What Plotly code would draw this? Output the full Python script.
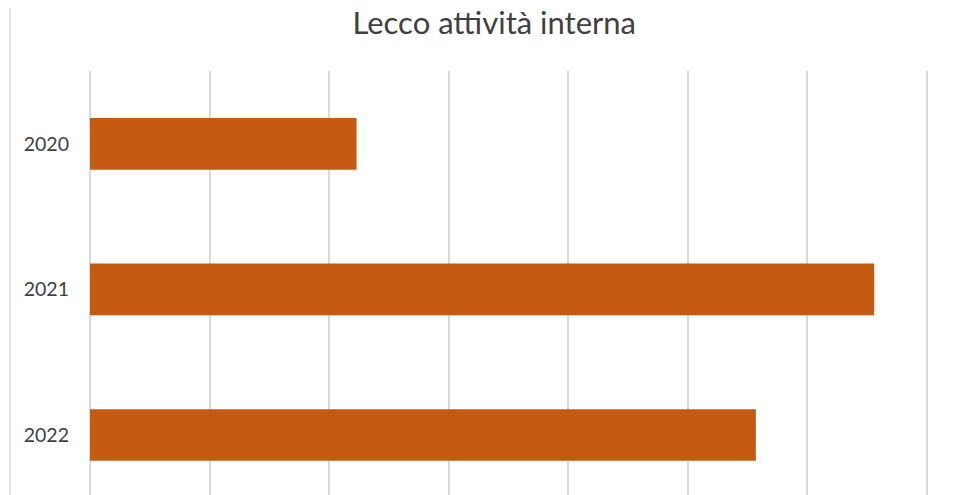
import plotly.graph_objects as go

categories = ["2020", "2021", "2022"]
values = [2.23, 6.56, 5.57]
title_text = "Lecco attività interna"

fig = go.Figure(go.Bar(
    x=values, y=categories, orientation="h",
    marker=dict(color="#C55A11", line=dict(width=0)),
    width=0.355,
))

W, H = 971, 495
ml, mr, mt, mb = 90, 43, 71, 0
pw = W - ml - mr
ph = H - mt - mb

fig.update_layout(
    width=W, height=H,
    margin=dict(l=ml, r=mr, t=mt, b=mb),
    paper_bgcolor="white", plot_bgcolor="white",
    font=dict(family="Lato, Carlito, sans-serif", color="#404040"),
    title=dict(text=title_text, x=0.509, xanchor="center", y=1 - 23 / H, yanchor="middle",
               font=dict(size=31, color="#404040")),
    showlegend=False,
    xaxis=dict(range=[0, 7.01], dtick=1, showgrid=True, gridcolor="#d9d9d9", gridwidth=1.5,
               showticklabels=False, zeroline=True, zerolinecolor="#d9d9d9", zerolinewidth=1.5,
               showline=False, fixedrange=True),
    yaxis=dict(range=[2.412, -0.5], showgrid=False, ticks="", showline=False,
               tickfont=dict(size=19.5, color="#404040"), ticklabelstandoff=20, fixedrange=True),
    shapes=[dict(type="line", xref="paper", yref="paper",
                 x0=(10 - ml) / pw, x1=(10 - ml) / pw,
                 y0=(H - 8 - mb) / ph, y1=-0.01,
                 line=dict(color="#d9d9d9", width=1.5))],
)

fig.write_html("out.html", config={"displayModeBar": False},
               post_script="document.body.style.margin='0';")
